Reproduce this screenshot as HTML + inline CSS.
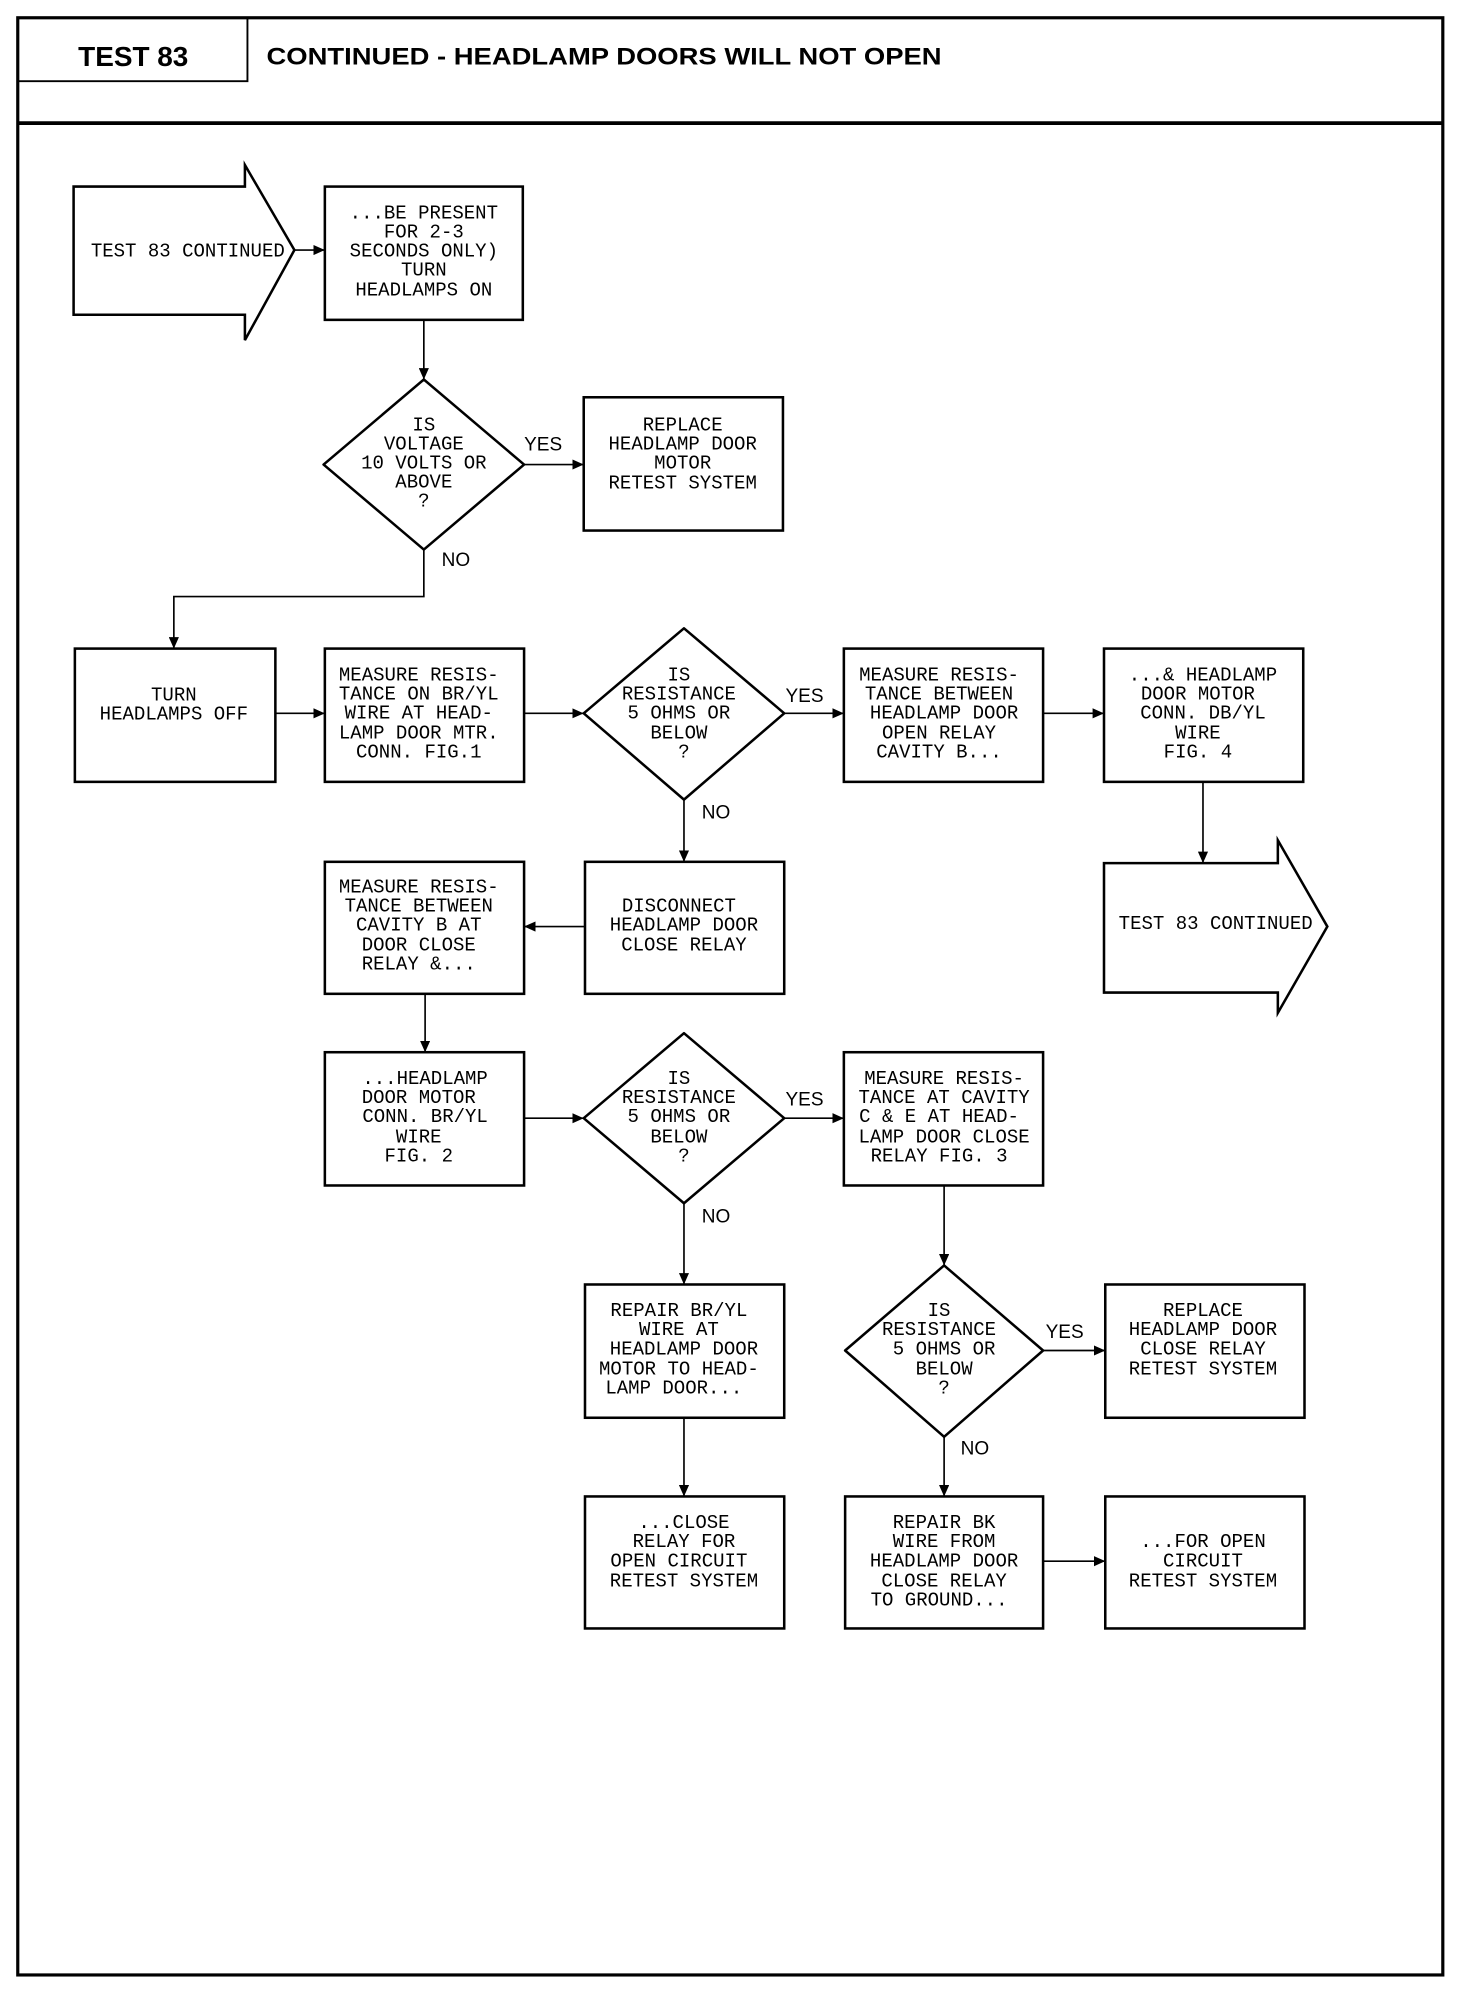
<!DOCTYPE html>
<html><head><meta charset="utf-8"><style>
html,body{margin:0;padding:0;background:#fff;}
svg{display:block;}
.t{font-family:"Liberation Mono",monospace;font-size:15px;text-anchor:middle;fill:#000;}
.l{font-family:"Liberation Sans",sans-serif;font-size:15px;fill:#000;}
</style></head><body>
<svg width="1472" height="1994" viewBox="0 0 1160 1571" preserveAspectRatio="none" xmlns="http://www.w3.org/2000/svg">
<defs><marker id="a" markerWidth="10" markerHeight="8" refX="9" refY="4" orient="auto" markerUnits="userSpaceOnUse"><path d="M0,0 L9,4 L0,8 Z" fill="#000"/></marker></defs>
<rect x="0" y="0" width="1160" height="1571" fill="#fff"/>
<!-- frame -->
<rect x="14" y="14" width="1123" height="1542" fill="none" stroke="#000" stroke-width="2.5"/>
<line x1="14" y1="97" x2="1137" y2="97" stroke="#000" stroke-width="3"/>
<path d="M14,64 H195 V14" fill="none" stroke="#000" stroke-width="1.5"/>
<text x="105" y="52" style="font-family:'Liberation Sans',sans-serif;font-weight:bold;font-size:22px;text-anchor:middle">TEST 83</text>
<text x="210" y="51" textLength="532" lengthAdjust="spacingAndGlyphs" style="font-family:'Liberation Sans',sans-serif;font-weight:bold;font-size:19px">CONTINUED - HEADLAMP DOORS WILL NOT OPEN</text>

<g fill="none" stroke="#000" stroke-width="2">
<!-- arrows -->
<path d="M58,147 H193 V130 L232,197 L193,268 V248 H58 Z"/>
<path d="M870,680 H1007 V662 L1046,730 L1007,798 V782 H870 Z"/>
<!-- boxes -->
<rect x="256" y="147" width="156" height="105"/>
<rect x="460" y="313" width="157" height="105"/>
<rect x="59" y="511" width="158" height="105"/>
<rect x="256" y="511" width="157" height="105"/>
<rect x="665" y="511" width="157" height="105"/>
<rect x="870" y="511" width="157" height="105"/>
<rect x="461" y="679" width="157" height="104"/>
<rect x="256" y="679" width="157" height="104"/>
<rect x="256" y="829" width="157" height="105"/>
<rect x="665" y="829" width="157" height="105"/>
<rect x="461" y="1012" width="157" height="105"/>
<rect x="871" y="1012" width="157" height="105"/>
<rect x="461" y="1179" width="157" height="104"/>
<rect x="666" y="1179" width="156" height="104"/>
<rect x="871" y="1179" width="157" height="104"/>
<!-- diamonds -->
<path d="M334,299 L413,366 L334,433 L255,366 Z" stroke-linejoin="round"/>
<path d="M539,495 L618,562 L539,630 L460,562 Z" stroke-linejoin="round"/>
<path d="M539,814 L618,881 L539,948 L460,881 Z" stroke-linejoin="round"/>
<path d="M744,997 L822,1064 L744,1132 L666,1064 Z" stroke-linejoin="round"/>
</g>

<g fill="none" stroke="#000" stroke-width="1.3" marker-end="url(#a)">
<line x1="232" y1="197" x2="256" y2="197"/>
<line x1="334" y1="252" x2="334" y2="299"/>
<line x1="413" y1="366" x2="460" y2="366"/>
<path d="M334,433 V470 H137 V511"/>
<line x1="217" y1="562" x2="256" y2="562"/>
<line x1="413" y1="562" x2="460" y2="562"/>
<line x1="618" y1="562" x2="665" y2="562"/>
<line x1="822" y1="562" x2="870" y2="562"/>
<line x1="948" y1="616" x2="948" y2="680"/>
<line x1="539" y1="630" x2="539" y2="679"/>
<line x1="461" y1="730" x2="413" y2="730"/>
<line x1="335" y1="783" x2="335" y2="829"/>
<line x1="413" y1="881" x2="460" y2="881"/>
<line x1="618" y1="881" x2="665" y2="881"/>
<line x1="539" y1="948" x2="539" y2="1012"/>
<line x1="744" y1="934" x2="744" y2="997"/>
<line x1="822" y1="1064" x2="871" y2="1064"/>
<line x1="539" y1="1117" x2="539" y2="1179"/>
<line x1="744" y1="1132" x2="744" y2="1179"/>
<line x1="822" y1="1230" x2="871" y2="1230"/>
</g>

<!-- labels -->
<g class="t">
<text x="148" y="202">TEST 83 CONTINUED</text>
<text x="958" y="732">TEST 83 CONTINUED</text>

<text x="334" y="172">...BE PRESENT</text><text x="334" y="187">FOR 2-3</text><text x="334" y="202">SECONDS ONLY)</text><text x="334" y="217">TURN</text><text x="334" y="233">HEADLAMPS ON</text>

<text x="334" y="339">IS</text><text x="334" y="354">VOLTAGE</text><text x="334" y="369">10 VOLTS OR</text><text x="334" y="384">ABOVE</text><text x="334" y="399">?</text>

<text x="538" y="339">REPLACE</text><text x="538" y="354">HEADLAMP DOOR</text><text x="538" y="369">MOTOR</text><text x="538" y="385">RETEST SYSTEM</text>

<text x="137" y="552">TURN</text><text x="137" y="567">HEADLAMPS OFF</text>

<text x="330" y="536">MEASURE RESIS-</text><text x="330" y="551">TANCE ON BR/YL</text><text x="330" y="566">WIRE AT HEAD-</text><text x="330" y="582">LAMP DOOR MTR.</text><text x="330" y="597">CONN. FIG.1</text>

<text x="535" y="536">IS</text><text x="535" y="551">RESISTANCE</text><text x="535" y="566">5 OHMS OR</text><text x="535" y="582">BELOW</text><text x="539" y="597">?</text>

<text x="740" y="536">MEASURE RESIS-</text><text x="740" y="551">TANCE BETWEEN</text><text x="744" y="566">HEADLAMP DOOR</text><text x="740" y="582">OPEN RELAY</text><text x="740" y="597">CAVITY B...</text>

<text x="948" y="536">...&amp; HEADLAMP</text><text x="944" y="551">DOOR MOTOR</text><text x="948" y="566">CONN. DB/YL</text><text x="944" y="582">WIRE</text><text x="944" y="597">FIG. 4</text>

<text x="535" y="718">DISCONNECT</text><text x="539" y="733">HEADLAMP DOOR</text><text x="539" y="749">CLOSE RELAY</text>

<text x="330" y="703">MEASURE RESIS-</text><text x="330" y="718">TANCE BETWEEN</text><text x="330" y="733">CAVITY B AT</text><text x="330" y="749">DOOR CLOSE</text><text x="330" y="764">RELAY &amp;...</text>

<text x="335" y="854">...HEADLAMP</text><text x="330" y="869">DOOR MOTOR</text><text x="335" y="884">CONN. BR/YL</text><text x="330" y="900">WIRE</text><text x="330" y="915">FIG. 2</text>

<text x="535" y="854">IS</text><text x="535" y="869">RESISTANCE</text><text x="535" y="884">5 OHMS OR</text><text x="535" y="900">BELOW</text><text x="539" y="915">?</text>

<text x="744" y="854">MEASURE RESIS-</text><text x="744" y="869">TANCE AT CAVITY</text><text x="740" y="884">C &amp; E AT HEAD-</text><text x="744" y="900">LAMP DOOR CLOSE</text><text x="740" y="915">RELAY FIG. 3</text>

<text x="535" y="1037">REPAIR BR/YL</text><text x="535" y="1052">WIRE AT</text><text x="539" y="1067">HEADLAMP DOOR</text><text x="535" y="1083">MOTOR TO HEAD-</text><text x="531" y="1098">LAMP DOOR...</text>

<text x="740" y="1037">IS</text><text x="740" y="1052">RESISTANCE</text><text x="744" y="1067">5 OHMS OR</text><text x="744" y="1083">BELOW</text><text x="744" y="1098">?</text>

<text x="948" y="1037">REPLACE</text><text x="948" y="1052">HEADLAMP DOOR</text><text x="948" y="1067">CLOSE RELAY</text><text x="948" y="1083">RETEST SYSTEM</text>

<text x="539" y="1204">...CLOSE</text><text x="539" y="1219">RELAY FOR</text><text x="535" y="1234">OPEN CIRCUIT</text><text x="539" y="1250">RETEST SYSTEM</text>

<text x="744" y="1204">REPAIR BK</text><text x="744" y="1219">WIRE FROM</text><text x="744" y="1234">HEADLAMP DOOR</text><text x="744" y="1250">CLOSE RELAY</text><text x="740" y="1265">TO GROUND...</text>

<text x="948" y="1219">...FOR OPEN</text><text x="948" y="1234">CIRCUIT</text><text x="948" y="1250">RETEST SYSTEM</text>
</g>
<g class="l">
<text x="413" y="355">YES</text>
<text x="348" y="446">NO</text>
<text x="619" y="553">YES</text>
<text x="553" y="645">NO</text>
<text x="619" y="871">YES</text>
<text x="553" y="963">NO</text>
<text x="824" y="1054">YES</text>
<text x="757" y="1146">NO</text>
</g>
</svg>
</body></html>
